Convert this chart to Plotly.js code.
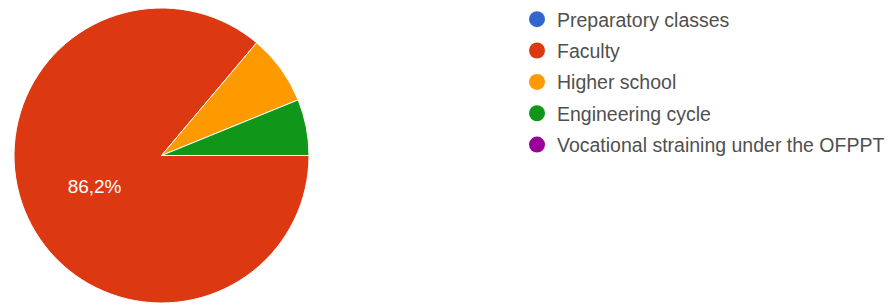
<!DOCTYPE html>
<html><head><meta charset="utf-8">
<script src="https://cdn.plot.ly/plotly-3.0.1.min.js"></script>
<style>html,body{margin:0;padding:0;background:#fff;}#chart{width:895px;height:305px;}</style>
</head><body><div id="chart"></div>
<script>
var categories = ['Preparatory classes', 'Faculty', 'Higher school', 'Engineering cycle', 'Vocational straining under the OFPPT'];
var counts = [0, 56, 5, 4, 0];
var colors = ['#3366cc', '#dc3912', '#ff9900', '#109618', '#990099'];
var shownLabels = ['', '%{percent:.1%}', '', '', ''];

var traces = [{
  type: 'pie',
  labels: categories,
  values: counts,
  sort: false,
  direction: 'clockwise',
  rotation: 90,
  marker: {colors: colors, line: {color: '#ffffff', width: 1}},
  texttemplate: shownLabels,
  textinfo: 'text',
  textposition: 'inside',
  insidetextorientation: 'horizontal',
  insidetextfont: {family: '"Liberation Sans", Arial, sans-serif', size: 19, color: '#ffffff'},
  domain: {x: [14/895, 309/895], y: [2/305, 297/305]},
  showlegend: false,
  hoverinfo: 'label+percent'
}];
categories.forEach(function(c, i) {
  traces.push({
    type: 'scatter', mode: 'markers', x: [null], y: [null],
    name: c, legendgroup: 'g' + i,
    marker: {color: colors[i], size: 17, symbol: 'circle'},
    hoverinfo: 'skip'
  });
});

var layout = {
  width: 895, height: 305,
  margin: {l: 0, r: 0, t: 0, b: 0},
  paper_bgcolor: '#ffffff', plot_bgcolor: '#ffffff',
  separators: ', ',
  xaxis: {visible: false, domain: [0.99, 1]},
  yaxis: {visible: false, domain: [0.99, 1]},
  showlegend: true,
  legend: {
    x: 517/895, xanchor: 'left', y: 1, yanchor: 'top',
    font: {family: '"Liberation Sans", Arial, sans-serif', size: 19.5, color: '#505050'},
    tracegroupgap: 3,
    bgcolor: 'rgba(0,0,0,0)'
  }
};
Plotly.newPlot('chart', traces, layout, {displayModeBar: false, staticPlot: true});
</script></body></html>
